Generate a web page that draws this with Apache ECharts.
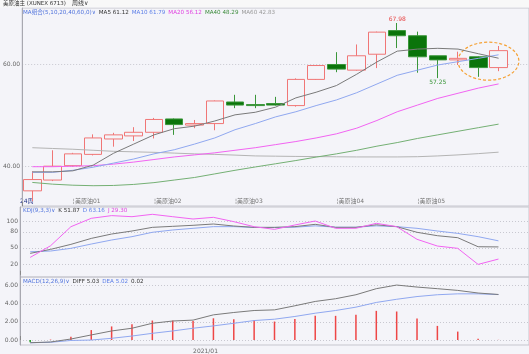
<!DOCTYPE html>
<html>
<head>
<meta charset="utf-8">
<script src="https://cdn.jsdelivr.net/npm/echarts@6/dist/echarts.min.js"></script>
<style>
html, body { margin: 0; padding: 0; background: #f4f4f9; }
#chart { width: 529px; height: 354px; }
</style>
</head>
<body>
<div id="chart"></div>
<script>
// 24 weekly bars of the US crude main contract
const contractLabels = ['', '', '美原油01', '', '', '', '美原油02', '', '', '', '美原油03', '', '', '', '', '美原油04', '', '', '', '美原油05', '', '', '', '']
const dateLabels = ['', '', '', '', '', '', '', '', '2021/01', '', '', '', '', '', '', '', '', '', '', '', '', '', '', '']

const opens = [35.3, 37.4, 40.2, 42.4, 45.4, 46.0, 46.7, 49.3, 48.1, 48.4, 52.6, 52.1, 52.3, 51.9, 57.0, 59.9, 58.8, 61.9, 66.5, 65.5, 61.6, 60.8, 61.4, 59.3]
const closes = [37.5, 40.1, 42.5, 45.6, 46.2, 46.7, 49.2, 48.2, 48.4, 52.8, 52.0, 51.9, 52.0, 57.0, 59.7, 59.0, 61.6, 66.2, 65.5, 61.4, 60.8, 61.1, 59.3, 62.6]
const lows = [33.3, 37.2, 40.0, 42.2, 43.9, 45.0, 45.5, 46.2, 47.5, 47.1, 51.4, 51.4, 51.9, 51.7, 56.9, 58.4, 58.7, 59.2, 63.1, 58.3, 57.25, 59.8, 57.5, 58.6]
const highs = [39.1, 43.2, 42.7, 46.3, 46.6, 47.7, 49.5, 49.4, 49.1, 52.9, 54.0, 54.0, 53.6, 57.2, 59.8, 62.3, 63.8, 66.3, 67.98, 66.3, 61.6, 62.4, 61.5, 63.5]

const ma5 = [39.0, 39.0, 39.2, 40.3, 42.6, 44.4, 46.2, 47.4, 47.9, 48.9, 50.1, 50.6, 51.6, 53.4, 54.5, 55.8, 58.0, 60.4, 62.5, 62.9, 63.05, 62.9, 62.0, 61.12]
const ma10 = [38.9, 38.9, 39.3, 39.9, 40.7, 41.5, 42.5, 43.3, 44.4, 45.6, 47.2, 48.4, 49.7, 50.7, 51.9, 53.0, 54.4, 56.1, 57.8, 58.8, 59.8, 60.45, 61.1, 61.79]
const ma20 = [40.0, 40.0, 40.1, 40.2, 40.5, 40.9, 41.4, 41.9, 42.3, 42.7, 43.2, 43.7, 44.3, 44.9, 45.6, 46.4, 47.5, 49.0, 50.7, 52.0, 53.3, 54.3, 55.3, 56.12]
const ma40 = [36.94, 36.6, 36.4, 36.3, 36.35, 36.55, 36.9, 37.4, 37.9, 38.6, 39.3, 39.95, 40.57, 41.2, 41.87, 42.5, 43.2, 44.0, 44.7, 45.5, 46.2, 46.9, 47.6, 48.29]
const ma60 = [43.7, 43.55, 43.4, 43.2, 43.0, 42.9, 42.8, 42.65, 42.5, 42.4, 42.26, 42.1, 42.05, 42.0, 41.97, 41.93, 41.9, 41.9, 41.9, 41.95, 42.1, 42.3, 42.55, 42.83]

const kLine = [39.9, 47.3, 56.6, 67.7, 75.8, 81.4, 88.2, 90.1, 92.0, 94.4, 90.7, 88.2, 88.2, 89.5, 93.8, 88.2, 88.2, 93.0, 89.5, 79.0, 72.7, 69.0, 52.2, 51.87]
const dLine = [42.9, 44.2, 49.2, 57.2, 64.7, 70.9, 79.0, 83.3, 86.4, 89.5, 89.5, 88.0, 88.0, 88.5, 91.0, 88.5, 88.5, 91.0, 89.5, 86.4, 81.4, 77.0, 70.9, 63.16]
const jLine = [32.4, 54.0, 89.4, 105.0, 110.0, 108.0, 112.4, 108.0, 103.7, 106.8, 98.8, 89.4, 84.5, 92.6, 100.0, 86.4, 86.5, 95.7, 89.5, 66.0, 53.5, 49.2, 19.4, 29.30]

const diff = [-0.30, -0.22, 0.11, 0.56, 1.0, 1.3, 1.85, 2.1, 2.2, 2.78, 3.04, 3.26, 3.33, 3.78, 4.26, 4.56, 5.0, 5.67, 6.07, 5.85, 5.67, 5.48, 5.19, 5.03]
const dea = [-0.30, -0.25, -0.05, 0.0, 0.19, 0.44, 0.74, 1.0, 1.3, 1.56, 1.85, 2.15, 2.3, 2.6, 2.96, 3.26, 3.63, 4.15, 4.5, 4.8, 5.0, 5.1, 5.1, 5.02]
const macd = [-0.25, 0.05, 0.37, 1.1, 1.5, 1.74, 2.15, 2.15, 2.1, 2.4, 2.3, 2.2, 2.04, 2.33, 2.67, 2.67, 2.78, 3.22, 3.15, 2.37, 1.56, 0.93, 0.15, 0.02]

const FONT = 'DejaVu Sans, Noto Sans CJK SC, sans-serif'
const BG = '#f4f4f9'
const GRID_LINE = '#c6c6ce'
const last = arr => arr[arr.length - 1].toFixed(2)

// one empty slot at the right like the terminal leaves
const mainCats = contractLabels.concat([''])
const dateCats = dateLabels.concat([''])

const highIdx = highs.indexOf(Math.max(...highs))
const afterPeak = lows.slice(highIdx)
const lowIdx = highIdx + afterPeak.indexOf(Math.min(...afterPeak))

const chart = echarts.init(document.getElementById('chart'))

function xAxisFor(gridIndex, data, label) {
  return {
    type: 'category',
    gridIndex: gridIndex,
    data: data,
    boundaryGap: true,
    axisLine: { show: false },
    axisTick: {
      show: true,
      inside: true,
      length: 4,
      interval: (i) => i === 23,
      lineStyle: { color: '#888' }
    },
    axisLabel: label || { show: false },
    splitLine: { show: false }
  }
}

function yAxisFor(gridIndex, min, max, ticks, digits) {
  return {
    type: 'value',
    gridIndex: gridIndex,
    min: min,
    max: max,
    axisLine: { show: true, lineStyle: { color: '#a8a8b0' } },
    axisTick: { show: false, customValues: ticks },
    axisLabel: {
      customValues: ticks,
      formatter: (v) => v.toFixed(digits),
      fontSize: 6,
      fontFamily: FONT,
      color: '#666',
      margin: 2
    },
    splitLine: { show: true, lineStyle: { color: '#c8c8d0', type: [1, 2] } }
  }
}

function line(name, data, color, xi) {
  return {
    name: name,
    type: 'line',
    xAxisIndex: xi,
    yAxisIndex: xi,
    data: data,
    symbol: 'none',
    silent: true,
    lineStyle: { width: 1, color: color }
  }
}

const gridBase = { left: 20, right: -9, show: true, borderColor: GRID_LINE, borderWidth: 1 }

chart.setOption({
  backgroundColor: BG,
  animation: false,
  grid: [
    Object.assign({ top: 8, height: 198 }, gridBase),
    Object.assign({ top: 207, height: 70 }, gridBase),
    Object.assign({ top: 277, height: 68 }, gridBase)
  ],
  xAxis: [
    xAxisFor(0, mainCats, {
      show: true,
      inside: true,
      interval: 0,
      align: 'left',
      margin: 2,
      fontSize: 6,
      fontFamily: FONT,
      color: '#777',
      formatter: (v) => v ? '¦' + v : ''
    }),
    xAxisFor(1, dateCats),
    xAxisFor(2, dateCats, {
      show: true,
      interval: 0,
      align: 'left',
      margin: 3,
      fontSize: 6,
      fontFamily: FONT,
      color: '#666'
    })
  ],
  yAxis: [
    yAxisFor(0, 32.35, 70.9, [40, 60], 2),
    yAxisFor(1, -4, 126, [20, 50, 80, 100], 0),
    yAxisFor(2, -0.55, 6.96, [0, 2, 4, 6], 2)
  ],
  series: [
    {
      type: 'candlestick',
      xAxisIndex: 0,
      yAxisIndex: 0,
      barWidth: 18,
      data: opens.map((o, i) => [o, closes[i], lows[i], highs[i]]),
      itemStyle: {
        color: BG,
        color0: '#0a740a',
        borderColor: '#f07676',
        borderColor0: '#3a963a',
        borderWidth: 1
      },
      markPoint: {
        symbolSize: 0,
        data: [
          {
            coord: [highIdx, highs[highIdx]],
            value: highs[highIdx],
            label: { position: 'top', distance: 1, color: '#e84848' }
          },
          {
            coord: [lowIdx, lows[lowIdx]],
            value: lows[lowIdx],
            label: { position: 'bottom', distance: 1, color: '#3a963a' }
          }
        ],
        label: {
          show: true,
          fontSize: 6,
          fontFamily: FONT,
          formatter: (p) => p.value.toFixed(2)
        }
      }
    },
    line('MA60', ma60, '#b4b4b4', 0),
    line('MA40', ma40, '#74b074', 0),
    line('MA20', ma20, '#f264f2', 0),
    line('MA10', ma10, '#90a8f0', 0),
    line('MA5', ma5, '#7a7a7a', 0),

    line('D', dLine, '#90a8f0', 1),
    line('K', kLine, '#7a7a7a', 1),
    line('J', jLine, '#f264f2', 1),

    {
      name: 'MACD',
      type: 'bar',
      xAxisIndex: 2,
      yAxisIndex: 2,
      barWidth: 1.5,
      silent: true,
      data: macd.map((v) => ({ value: v, itemStyle: { color: v >= 0 ? '#ee4646' : '#22a022' } }))
    },
    line('DEA', dea, '#90a8f0', 2),
    line('DIFF', diff, '#7a7a7a', 2)
  ]
})

// legend rows as rich text
function legendText(id, x, y, parts) {
  const rich = {}
  let text = ''
  parts.forEach((p, i) => {
    rich['p' + i] = { fill: p[1], fontSize: p[2] || 5.6, fontFamily: FONT, padding: [0, 3, 0, 0] }
    text += '{p' + i + '|' + p[0] + '}'
  })
  return { type: 'text', id: id, left: x, top: y, silent: true, style: { text: text, rich: rich, verticalAlign: 'top' } }
}

// dashed ring round the last bars, placed through the chart's scales
const pA = chart.convertToPixel({ gridIndex: 0 }, [22, 60.55])
const pB = chart.convertToPixel({ gridIndex: 0 }, [23, 60.55])
const pTop = chart.convertToPixel({ gridIndex: 0 }, [23, 60.55 + 3.7])
const step = pB[0] - pA[0]

chart.setOption({
  graphic: [
    { type: 'rect', id: 'topbar', shape: { x: 0, y: 0, width: 529, height: 7.5 }, style: { fill: '#f8f8f8' }, silent: true },
    legendText('title', 3, 1, [['美原油主 (XUNEX 6713)', '#333', 5.5]]),
    legendText('period', 72, 0.5, [['周线∨', '#333', 6]]),
    legendText('maLegend', 23, 10, [
      ['MA组合(5,10,20,40,60,0)∨', '#4f72dc'],
      ['MA5 ' + last(ma5), '#333'],
      ['MA10 ' + last(ma10), '#5b7ee8'],
      ['MA20 ' + last(ma20), '#e040e0'],
      ['MA40 ' + last(ma40), '#3a8a3a'],
      ['MA60 ' + last(ma60), '#999']
    ]),
    legendText('kdjLegend', 23, 208, [
      ['KDJ(9,3,3)∨', '#4f72dc'],
      ['K ' + last(kLine), '#333'],
      ['D ' + last(dLine), '#5b7ee8'],
      ['J ' + last(jLine), '#e040e0']
    ]),
    legendText('macdLegend', 23, 279, [
      ['MACD(12,26,9)∨', '#4f72dc'],
      ['DIFF ' + last(diff), '#333'],
      ['DEA ' + last(dea), '#5b7ee8'],
      [last(macd), '#333']
    ]),
    legendText('period2', 20, 198.5, [['24周', '#223388', 6]]),
    {
      type: 'ellipse',
      id: 'ring',
      silent: true,
      shape: { cx: (pA[0] + pB[0]) / 2, cy: pA[1], rx: step * 1.5, ry: pA[1] - pTop[1] },
      style: { fill: 'none', stroke: '#f5a236', lineWidth: 1.2, lineDash: [3, 2] }
    }
  ]
})
</script>
</body>
</html>
